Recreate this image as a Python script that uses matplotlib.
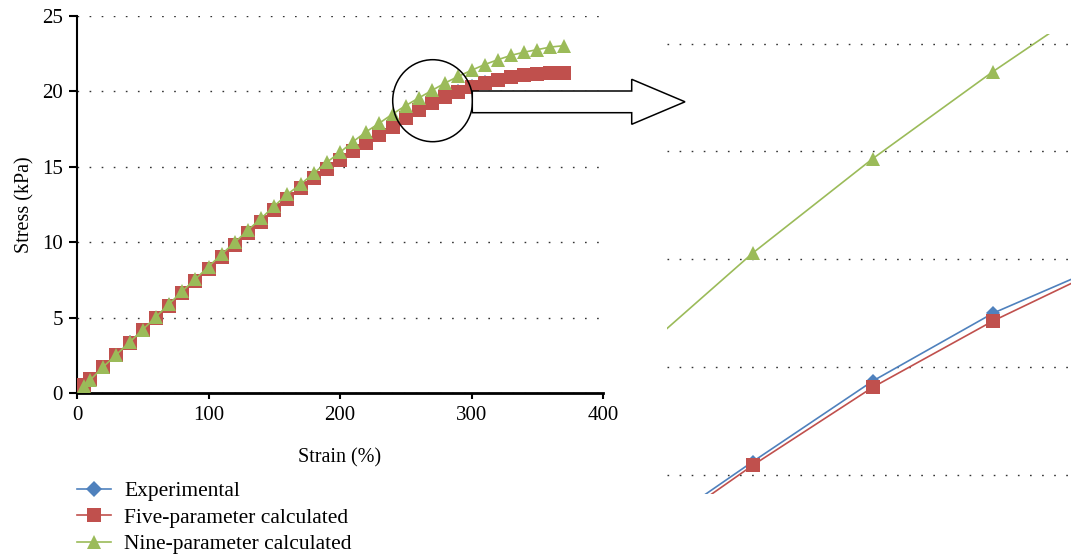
import matplotlib
matplotlib.use("Agg")
import matplotlib.pyplot as plt
from matplotlib.lines import Line2D
from matplotlib.patches import Ellipse, Polygon

plt.rcParams["font.family"] = ["Liberation Serif", "DejaVu Serif"]

BLUE = "#4F81BD"
RED = "#C0504D"
GREEN = "#9BBB59"

# main chart data (strain in %, stress in kPa)
strain = [5, 10, 20, 30, 40, 50, 60, 70, 80, 90, 100, 110, 120, 130, 140, 150,
          160, 170, 180, 190, 200, 210, 220, 230, 240, 250, 260, 270, 280, 290,
          300, 310, 320, 330, 340, 350, 360, 370]
experimental = [0.52, 0.92, 1.74, 2.54, 3.35, 4.17, 5.0, 5.82, 6.65, 7.45,
                8.25, 9.05, 9.84, 10.62, 11.39, 12.15, 12.9, 13.59, 14.26,
                14.87, 15.47, 16.04, 16.62, 17.14, 17.68, 18.23, 18.79, 19.23,
                19.67, 20.0, 20.33, 20.6, 20.78, 20.95, 21.09, 21.17, 21.22,
                21.24]
five_param = [0.5, 0.9, 1.72, 2.52, 3.33, 4.15, 4.98, 5.8, 6.63, 7.43, 8.23,
              9.03, 9.82, 10.6, 11.37, 12.13, 12.88, 13.57, 14.24, 14.85,
              15.45, 16.02, 16.6, 17.12, 17.66, 18.21, 18.77, 19.21, 19.65,
              19.98, 20.31, 20.58, 20.76, 20.93, 21.07, 21.15, 21.2, 21.22]
nine_param = [0.45, 0.86, 1.74, 2.55, 3.37, 4.2, 5.05, 5.9, 6.75, 7.55, 8.38,
              9.2, 9.99, 10.8, 11.58, 12.4, 13.18, 13.84, 14.57, 15.3, 15.96,
              16.67, 17.33, 17.9, 18.5, 19.06, 19.57, 20.07, 20.56, 21.0, 21.4,
              21.78, 22.1, 22.39, 22.6, 22.77, 22.94, 23.03]

# magnified detail shown on the right
zoom_strain = [250, 260, 270, 280, 290]
zoom_experimental = [18.178, 18.562, 18.936, 19.250, 19.491]
zoom_five_param = [18.155, 18.545, 18.907, 19.214, 19.481]
zoom_nine_param = [19.039, 19.529, 19.967, 20.370, 20.747]

labels = ["Experimental", "Five-parameter calculated", "Nine-parameter calculated"]

W, H = 1071, 554
fig = plt.figure(figsize=(W / 100, H / 100), dpi=100)


def px(x, y):
    return x / W, 1 - y / H


grid_kw = dict(color="#333333", linewidth=1.0, linestyle=(0, (1.2, 7.5)))

# main axes
ax = fig.add_axes([77 / W, 1 - 393 / H, 526 / W, 377 / H])
ax.plot(strain, experimental, color=BLUE, lw=1.2, marker="D", ms=7, mew=0, zorder=3)
ax.plot(strain, five_param, color=RED, lw=1.2, marker="s", ms=9.5, mew=0, zorder=4)
ax.plot(strain, nine_param, color=GREEN, lw=1.2, marker="^", ms=10, mew=0, zorder=5)
ax.set_xlim(0, 400)
ax.set_ylim(0, 25)
ax.set_xticks([0, 100, 200, 300, 400])
ax.set_yticks([0, 5, 10, 15, 20, 25])
for side in ("top", "right"):
    ax.spines[side].set_visible(False)
ax.spines["left"].set_linewidth(1.5)
ax.spines["bottom"].set_linewidth(2.0)
ax.tick_params(axis="y", direction="out", length=6, width=1.5, labelsize=15, pad=4)
ax.tick_params(axis="x", direction="out", length=4.5, width=1.5, labelsize=15, pad=5)
ax.grid(axis="y", **grid_kw)
ax.set_axisbelow(True)
ax.set_ylabel("Stress (kPa)", fontsize=14.5)
ax.set_xlabel("Strain (%)", fontsize=14.5)
ax.yaxis.set_label_coords(-0.1, 0.5)
ax.xaxis.set_label_coords(0.5, -0.171)
ax.xaxis.label.set_va("center")
ax.yaxis.label.set_va("center")

# magnified inset
ins = fig.add_axes([667 / W, 1 - 494 / H, 404 / W, 459.7 / H])
ins.plot(zoom_strain, zoom_experimental, color=BLUE, lw=1.2, marker="D", ms=7, mew=0)
ins.plot(zoom_strain, zoom_five_param, color=RED, lw=1.2, marker="s", ms=10, mew=0)
ins.plot(zoom_strain, zoom_nine_param, color=GREEN, lw=1.2, marker="^", ms=10, mew=0)
ins.set_xlim(252.86, 286.5)
ins.set_ylim(18.412, 20.543)
ins.set_yticks([18.5, 19.0, 19.5, 20.0, 20.5])
ins.set_xticks([])
ins.tick_params(axis="y", length=0, labelleft=False)
for s in ins.spines.values():
    s.set_visible(False)
ins.grid(axis="y", **grid_kw)
ins.set_axisbelow(True)
ins.patch.set_alpha(0)

# circle and block arrow
cx, cy = px(432.7, 100.7)
fig.add_artist(Ellipse((cx, cy), 80 / W, 82 / H, transform=fig.transFigure,
                       fill=False, edgecolor="black", linewidth=1.1, zorder=10))
arrow_pts = [(472.3, 91), (631.7, 91), (631.7, 79.3), (685, 101.8),
             (631.7, 124.3), (631.7, 112.7), (472.3, 112.7)]
fig.add_artist(Polygon([px(x, y) for x, y in arrow_pts], closed=True,
                       transform=fig.transFigure, facecolor="white",
                       edgecolor="black", linewidth=1.1, zorder=10))

# legend below the main chart
handles = [
    Line2D([], [], color=BLUE, lw=1.2, marker="D", ms=8, mew=0),
    Line2D([], [], color=RED, lw=1.2, marker="s", ms=10, mew=0),
    Line2D([], [], color=GREEN, lw=1.2, marker="^", ms=10, mew=0),
]
fig.legend(handles, labels, loc="upper left", bbox_to_anchor=px(77, 481),
           frameon=False, fontsize=15.5, handlelength=1.6, handletextpad=0.6,
           labelspacing=0.3, borderpad=0, borderaxespad=0)

fig.savefig("out.png", dpi=100)
